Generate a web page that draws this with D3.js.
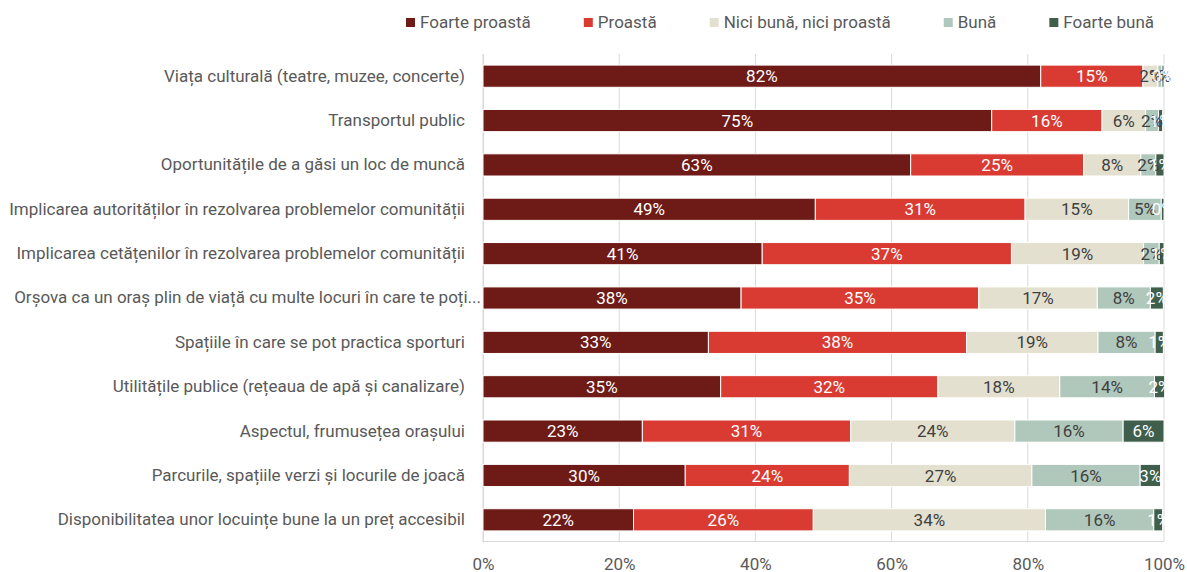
<!DOCTYPE html>
<html>
<head>
<meta charset="utf-8">
<script src="https://cdn.jsdelivr.net/npm/d3@7"></script>
<style>
  html, body { margin: 0; padding: 0; background: #fff; }
  svg { display: block; font-family: Roboto, "Noto Sans", sans-serif; }
</style>
</head>
<body>
<svg id="chart" width="1187" height="572"></svg>
<script>
const categories = [
  "Viața culturală (teatre, muzee, concerte)",
  "Transportul public",
  "Oportunitățile de a găsi un loc de muncă",
  "Implicarea autorităților în rezolvarea problemelor comunității",
  "Implicarea cetățenilor în rezolvarea problemelor comunității",
  "Orșova ca un oraș plin de viață cu multe locuri în care te poți...",
  "Spațiile în care se pot practica sporturi",
  "Utilitățile publice (rețeaua de apă și canalizare)",
  "Aspectul, frumusețea orașului",
  "Parcurile, spațiile verzi și locurile de joacă",
  "Disponibilitatea unor locuințe bune la un preț accesibil"
];
const seriesNames = ["Foarte proastă", "Proastă", "Nici bună, nici proastă", "Bună", "Foarte bună"];
const foarteProasta = [81.9, 74.7, 62.8, 48.8, 41.0, 37.9, 33.1, 34.9, 23.4, 29.7, 22.1];
const proasta       = [15.0, 16.2, 25.4, 30.8, 36.6, 34.9, 37.9, 31.9, 30.6, 24.1, 26.4];
const niciBuna      = [ 2.2,  6.4,  8.4, 15.2, 19.4, 17.4, 19.3, 17.9, 24.1, 26.8, 34.1];
const buna          = [ 0.6,  1.9,  2.2,  4.8,  2.3,  7.8,  8.4, 13.9, 15.9, 15.9, 15.9];
const foarteBuna    = [ 0.3,  0.6,  1.2,  0.4,  0.7,  1.9,  1.2,  1.5,  6.0,  3.0,  1.3];
const xTicks = [0, 20, 40, 60, 80, 100];
const colors = ["#6E1B17", "#D93A32", "#E3E0CF", "#B0C7BB", "#3F5E4B"];
const labelColors = ["#ffffff", "#ffffff", "#404040", "#404040", "#ffffff"];

const svg = d3.select("#chart");
const mLeft = 483, mRight = 1164, mTop = 54, mBottom = 542;
const FS = "17px";

const x = d3.scaleLinear().domain([0, 100]).range([mLeft, mRight]);
const y = d3.scaleBand().domain(categories).range([mTop, mBottom]).paddingInner(0.5).paddingOuter(0.25);

// gridlines
svg.append("g").selectAll("line").data(xTicks).join("line")
  .attr("x1", d => x(d)).attr("x2", d => x(d))
  .attr("y1", mTop).attr("y2", mBottom)
  .attr("stroke", "#d9d9d9").attr("stroke-width", 1);

// bottom axis line
svg.append("line").attr("x1", mLeft).attr("x2", mRight).attr("y1", mBottom - 0.5).attr("y2", mBottom - 0.5)
  .attr("stroke", "#d9d9d9");

// x axis
const xAxis = d3.axisBottom(x).tickValues(xTicks).tickFormat(d => d + "%").tickSize(0).tickPadding(0);
const gx = svg.append("g").attr("transform", `translate(0,${mBottom})`).call(xAxis);
gx.select(".domain").remove();
gx.selectAll("text").attr("y", 22).attr("dy", "0.35em")
  .attr("fill", "#595959").style("font-size", FS).style("font-family", "Roboto, sans-serif");

// y axis labels
const yAxis = d3.axisLeft(y).tickSize(0).tickPadding(18);
const gy = svg.append("g").attr("transform", `translate(${mLeft},0)`).call(yAxis);
gy.select(".domain").attr("stroke", "#d9d9d9");
gy.selectAll("text").attr("fill", "#595959").style("font-size", FS).style("font-family", "Roboto, sans-serif")
  .attr("x", d => d.endsWith("...") ? -2 : -18);

// stacks
const seriesArrays = [foarteProasta, proasta, niciBuna, buna, foarteBuna];
const rows = categories.map((c, i) => {
  const o = { cat: c };
  seriesNames.forEach((s, k) => o[s] = seriesArrays[k][i]);
  return o;
});
const stacked = d3.stack().keys(seriesNames)(rows);

const layers = svg.append("g").selectAll("g").data(stacked).join("g")
  .attr("fill", (d, i) => colors[i]);
layers.selectAll("rect").data(d => d).join("rect")
  .attr("x", d => x(d[0]))
  .attr("y", d => y(d.data.cat))
  .attr("width", d => x(d[1]) - x(d[0]))
  .attr("height", y.bandwidth())
  .attr("stroke", "#ffffff").attr("stroke-width", 1);

const lab = svg.append("g").selectAll("g").data(stacked).join("g")
  .attr("fill", (d, i) => labelColors[i]);
lab.selectAll("text").data(d => d).join("text")
  .attr("x", d => (x(d[0]) + x(d[1])) / 2)
  .attr("y", d => y(d.data.cat) + y.bandwidth() / 2)
  .attr("dy", "0.36em")
  .attr("text-anchor", "middle")
  .style("font-size", FS)
  .text(d => Math.round(d[1] - d[0]) + "%");

// legend
const legend = svg.append("g").attr("transform", "translate(406,22)");
let lx = 0;
seriesNames.forEach((s, i) => {
  const g = legend.append("g").attr("transform", `translate(${lx},0)`);
  g.append("rect").attr("x", 0).attr("y", -4).attr("width", 9).attr("height", 9).attr("fill", colors[i]);
  const t = g.append("text").attr("x", 14).attr("y", 0).attr("dy", "0.35em")
    .attr("fill", "#595959").style("font-size", FS).text(s);
  lx += 14 + t.node().getComputedTextLength() + 53;
});
</script>
</body>
</html>
